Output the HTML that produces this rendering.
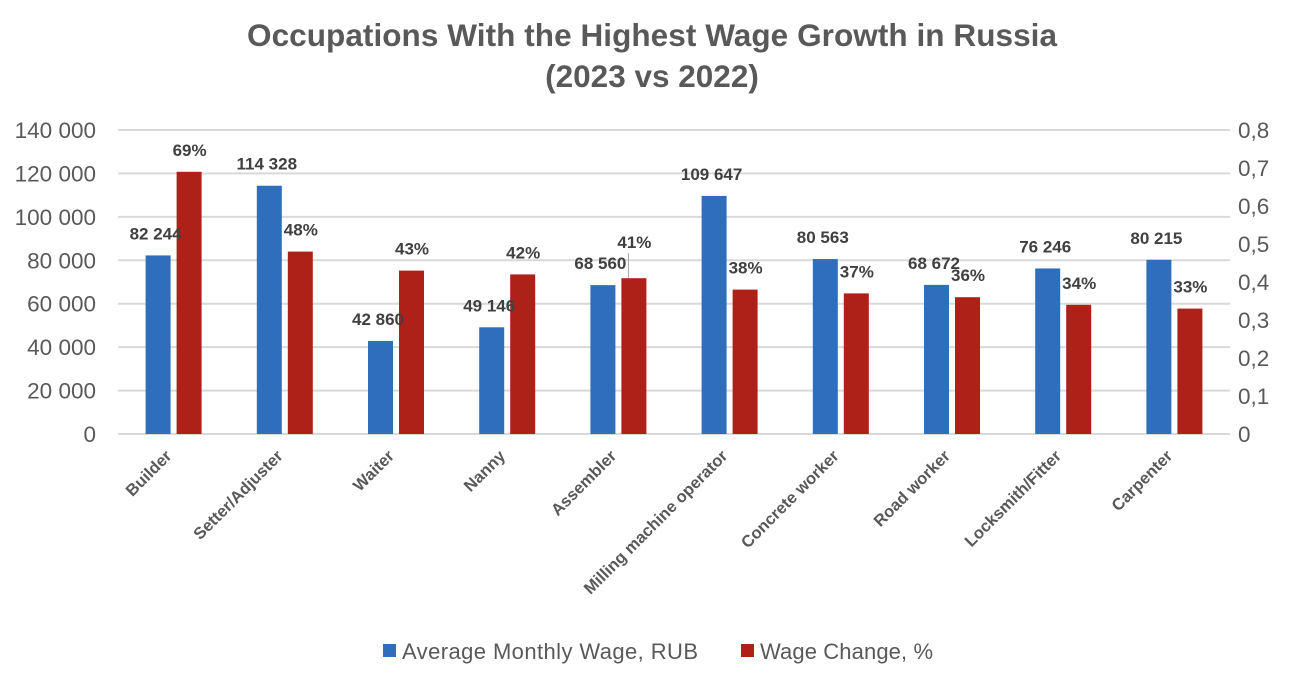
<!DOCTYPE html>
<html><head><meta charset="utf-8"><style>
html,body{margin:0;padding:0;background:#fff;}
svg{display:block;font-family:"Liberation Sans",sans-serif;}
</style></head><body>
<svg id="chart" width="1304" height="684">
<text x="652" y="46" text-anchor="middle" font-size="31.5" font-weight="bold" fill="#595959" textLength="810">Occupations With the Highest Wage Growth in Russia</text>
<text x="652" y="87" text-anchor="middle" font-size="31.5" font-weight="bold" fill="#595959">(2023 vs 2022)</text>
<g id="grid"></g><g id="bars"></g><g id="labels"></g><g id="axes"></g>
<g>
<rect x="383" y="644" width="13" height="13" fill="#2E6EBA"/>
<text x="402" y="659" font-size="22" fill="#595959" textLength="296">Average Monthly Wage, RUB</text>
<rect x="741" y="644" width="13" height="13" fill="#AE2118"/>
<text x="760" y="659" font-size="22" fill="#595959" textLength="173">Wage Change, %</text>
</g>
</svg>
<script>
const categories=["Builder","Setter/Adjuster","Waiter","Nanny","Assembler","Milling machine operator","Concrete worker","Road worker","Locksmith/Fitter","Carpenter"];
const wages=[82244,114328,42860,49146,68560,109647,80563,68672,76246,80215];
const changes=[0.69,0.48,0.43,0.42,0.41,0.38,0.37,0.36,0.34,0.33];
const leftTicks=["0","20 000","40 000","60 000","80 000","100 000","120 000","140 000"];
const rightTicks=["0","0,1","0,2","0,3","0,4","0,5","0,6","0,7","0,8"];
const NS="http://www.w3.org/2000/svg";
const X0=118,X1=1230,Y0=434,Y1=130;
const yL=v=>Y0-(v/140000)*(Y0-Y1);
const yR=v=>Y0-(v/0.8)*(Y0-Y1);
const band=(X1-X0)/categories.length;
const cx=i=>X0+band*(i+0.5);
function mk(tag,attrs,parent){const e=document.createElementNS(NS,tag);for(const k in attrs)e.setAttribute(k,attrs[k]);document.getElementById(parent).appendChild(e);return e;}
const fmt=v=>String(v).replace(/\B(?=(\d{3})+(?!\d))/g," ");
leftTicks.forEach((t,i)=>{
  const y=yL(i*20000);
  const g=mk("line",{x1:X0,x2:X1,y1:y,y2:y,stroke:"#d9d9d9","stroke-width":2},"grid");
  
  
  const tx=mk("text",{x:96,y:y+8,"text-anchor":"end","font-size":22.5,fill:"#595959"},"axes");
  tx.textContent=t;
  
  
});
rightTicks.forEach((t,i)=>{
  const y=yR(i*0.1);
  const tx=mk("text",{x:1238,y:y+8,"font-size":22.5,fill:"#595959"},"axes");
  tx.textContent=t;
  
  
});
categories.forEach((c,i)=>{
  const c0=cx(i);
  const b=mk("rect",{x:c0-28,y:yL(wages[i]),width:25,height:Y0-yL(wages[i]),fill:"#2E6EBA"},"bars");
  
  
  const r=mk("rect",{x:c0+3,y:yR(changes[i]),width:25,height:Y0-yR(changes[i]),fill:"#AE2118"},"bars");
  
  
  const lw=mk("text",{x:c0-18,y:yL(wages[i])-16,"text-anchor":"middle","font-size":17,"font-weight":"bold",fill:"#404040"},"labels");
  lw.textContent=fmt(wages[i]);
  
  
  const lc=mk("text",{x:c0+16,y:yR(changes[i])-(i===4?30:16),"text-anchor":"middle","font-size":17,"font-weight":"bold",fill:"#404040"},"labels");
  lc.textContent=Math.round(changes[i]*100)+"%";
  
  
  const cl=mk("text",{x:c0-1,y:457,"text-anchor":"end","font-size":16.5,"font-weight":"bold",fill:"#595959",transform:`rotate(-45 ${c0-1} 457)`},"axes");
  cl.textContent=c;
  
  
});
const ll=mk("line",{x1:cx(4)+10,x2:cx(4)+10,y1:yR(changes[4])-25,y2:yR(changes[4]),stroke:"#a6a6a6","stroke-width":1},"labels");


</script>
</body></html>
